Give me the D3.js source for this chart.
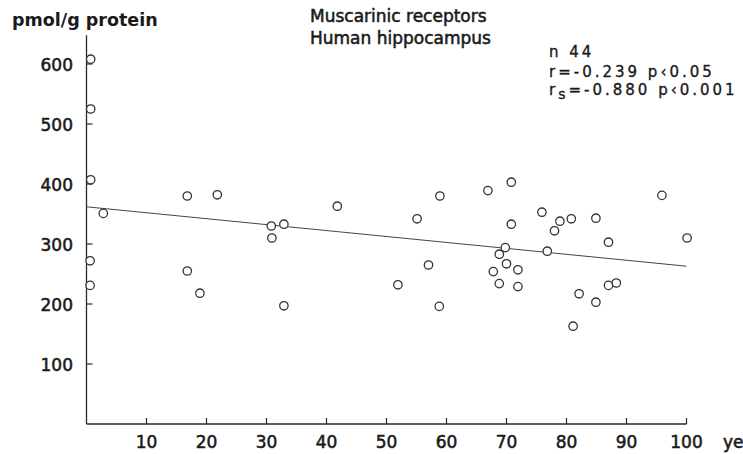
<!DOCTYPE html>
<html>
<head>
<meta charset="utf-8">
<script src="https://cdn.jsdelivr.net/npm/d3@7"></script>
<style>
  html, body { margin: 0; padding: 0; background: #fff; }
  svg { display: block; }
  text { font-family: "DejaVu Sans", sans-serif; fill: #1a1a1a; }
</style>
</head>
<body>
<svg id="chart" width="743" height="454"></svg>
<script>
// ---- data (age in years, receptor density pmol/g protein) ----
const ages = [0.7, 0.7, 0.7, 0.6, 0.6, 2.8, 16.8, 16.8, 18.9, 21.8,
  30.8, 30.9, 32.9, 32.9, 41.8, 51.9, 55.1, 57.0, 58.9, 58.8,
  66.9, 67.8, 68.8, 68.8, 69.8, 70.0, 70.8, 70.8, 71.9, 71.9,
  75.9, 76.8, 78.0, 78.9, 80.8, 81.1, 82.1, 84.9, 84.9, 87.0,
  87.0, 88.3, 95.9, 100.1];
const values = [608, 525, 407, 272, 231, 351, 380, 255, 218, 382,
  330, 310, 333, 197, 363, 232, 342, 265, 380, 196,
  389, 254, 283, 234, 294, 267, 403, 333, 257, 229,
  353, 288, 322, 338, 342, 163, 217, 203, 343, 303,
  231, 235, 381, 310];
const xTicks = [10, 20, 30, 40, 50, 60, 70, 80, 90, 100];
const yTicks = [100, 200, 300, 400, 500, 600];
const regression = { intercept: 362, slope: -0.99 };
const title = ["Muscarinic receptors", "Human hippocampus"];
const yLabel = "pmol/g protein";
const xLabel = "years";
const statN = "n 44";
const statR = "r=-0.239  p\u20390.05";
const statRs = ["r", "s", "=-0.880  p\u20390.001"];

// ---- layout ----
const svg = d3.select("#chart");
const x = d3.scaleLinear().domain([0, 100]).range([86.5, 686.5]);
const y = d3.scaleLinear().domain([0, 600]).range([424, 64]);
const ink = "#2a2a2a";
const heavy = sel => sel.attr("stroke", "#1a1a1a").attr("stroke-width", 0.55);

// axes lines
svg.append("line")
  .attr("x1", x(0)).attr("x2", x(0))
  .attr("y1", y(0)).attr("y2", y(648))
  .attr("stroke", ink).attr("stroke-width", 1.3);
svg.append("line")
  .attr("x1", x(0)).attr("x2", x(100))
  .attr("y1", y(0)).attr("y2", y(0))
  .attr("stroke", ink).attr("stroke-width", 1.3);

// x ticks (inward, upward)
const xg = svg.append("g");
xTicks.forEach(t => {
  xg.append("line")
    .attr("x1", x(t)).attr("x2", x(t))
    .attr("y1", y(0)).attr("y2", y(0) - 6)
    .attr("stroke", ink).attr("stroke-width", 1.2);
  xg.append("text")
    .attr("x", x(t)).attr("y", y(0) + 23.5)
    .attr("text-anchor", "middle")
    .attr("font-size", 17)
    .call(heavy)
    .text(t);
});

// y ticks (inward, to the right)
const yg = svg.append("g");
yTicks.forEach(t => {
  yg.append("line")
    .attr("x1", x(0)).attr("x2", x(0) + 6)
    .attr("y1", y(t)).attr("y2", y(t))
    .attr("stroke", ink).attr("stroke-width", 1.2);
  yg.append("text")
    .attr("x", 73).attr("y", y(t) + 6.5)
    .attr("text-anchor", "end")
    .attr("font-size", 17)
    .call(heavy)
    .text(t);
});

// regression line
svg.append("line")
  .attr("x1", x(0)).attr("x2", x(100))
  .attr("y1", y(regression.intercept))
  .attr("y2", y(regression.intercept + regression.slope * 100))
  .attr("stroke", "#444").attr("stroke-width", 1);

// points
svg.append("g").selectAll("circle")
  .data(ages.map((a, i) => [a, values[i]]))
  .join("circle")
  .attr("cx", d => x(d[0]))
  .attr("cy", d => y(d[1]))
  .attr("r", 4.2)
  .attr("fill", "#fff")
  .attr("stroke", "#333")
  .attr("stroke-width", 1.3);

// labels
svg.append("text")
  .attr("x", 12).attr("y", 26)
  .attr("font-size", 17.5).attr("font-weight", "bold")
  .text(yLabel);

title.forEach((t, i) => {
  svg.append("text")
    .attr("x", 310).attr("y", 22 + i * 22)
    .attr("font-size", 17)
    .call(heavy)
    .text(t);
});

svg.append("text")
  .attr("x", 723).attr("y", 447.5)
  .attr("font-size", 17)
  .call(heavy)
  .text(xLabel);

const stat = svg.append("g").attr("font-size", 15).attr("letter-spacing", 3);
stat.append("text").attr("x", 549).attr("y", 57).call(heavy).attr("stroke-width", 0.35).text(statN);
stat.append("text").attr("x", 549).attr("y", 77).call(heavy).attr("stroke-width", 0.35).text(statR);
const rs = stat.append("text").attr("x", 549).attr("y", 95).call(heavy).attr("stroke-width", 0.35);
rs.append("tspan").text(statRs[0]);
rs.append("tspan").attr("dy", 4).attr("font-size", 14).text(statRs[1]);
rs.append("tspan").attr("dy", -4).text(statRs[2]);
</script>
</body>
</html>
